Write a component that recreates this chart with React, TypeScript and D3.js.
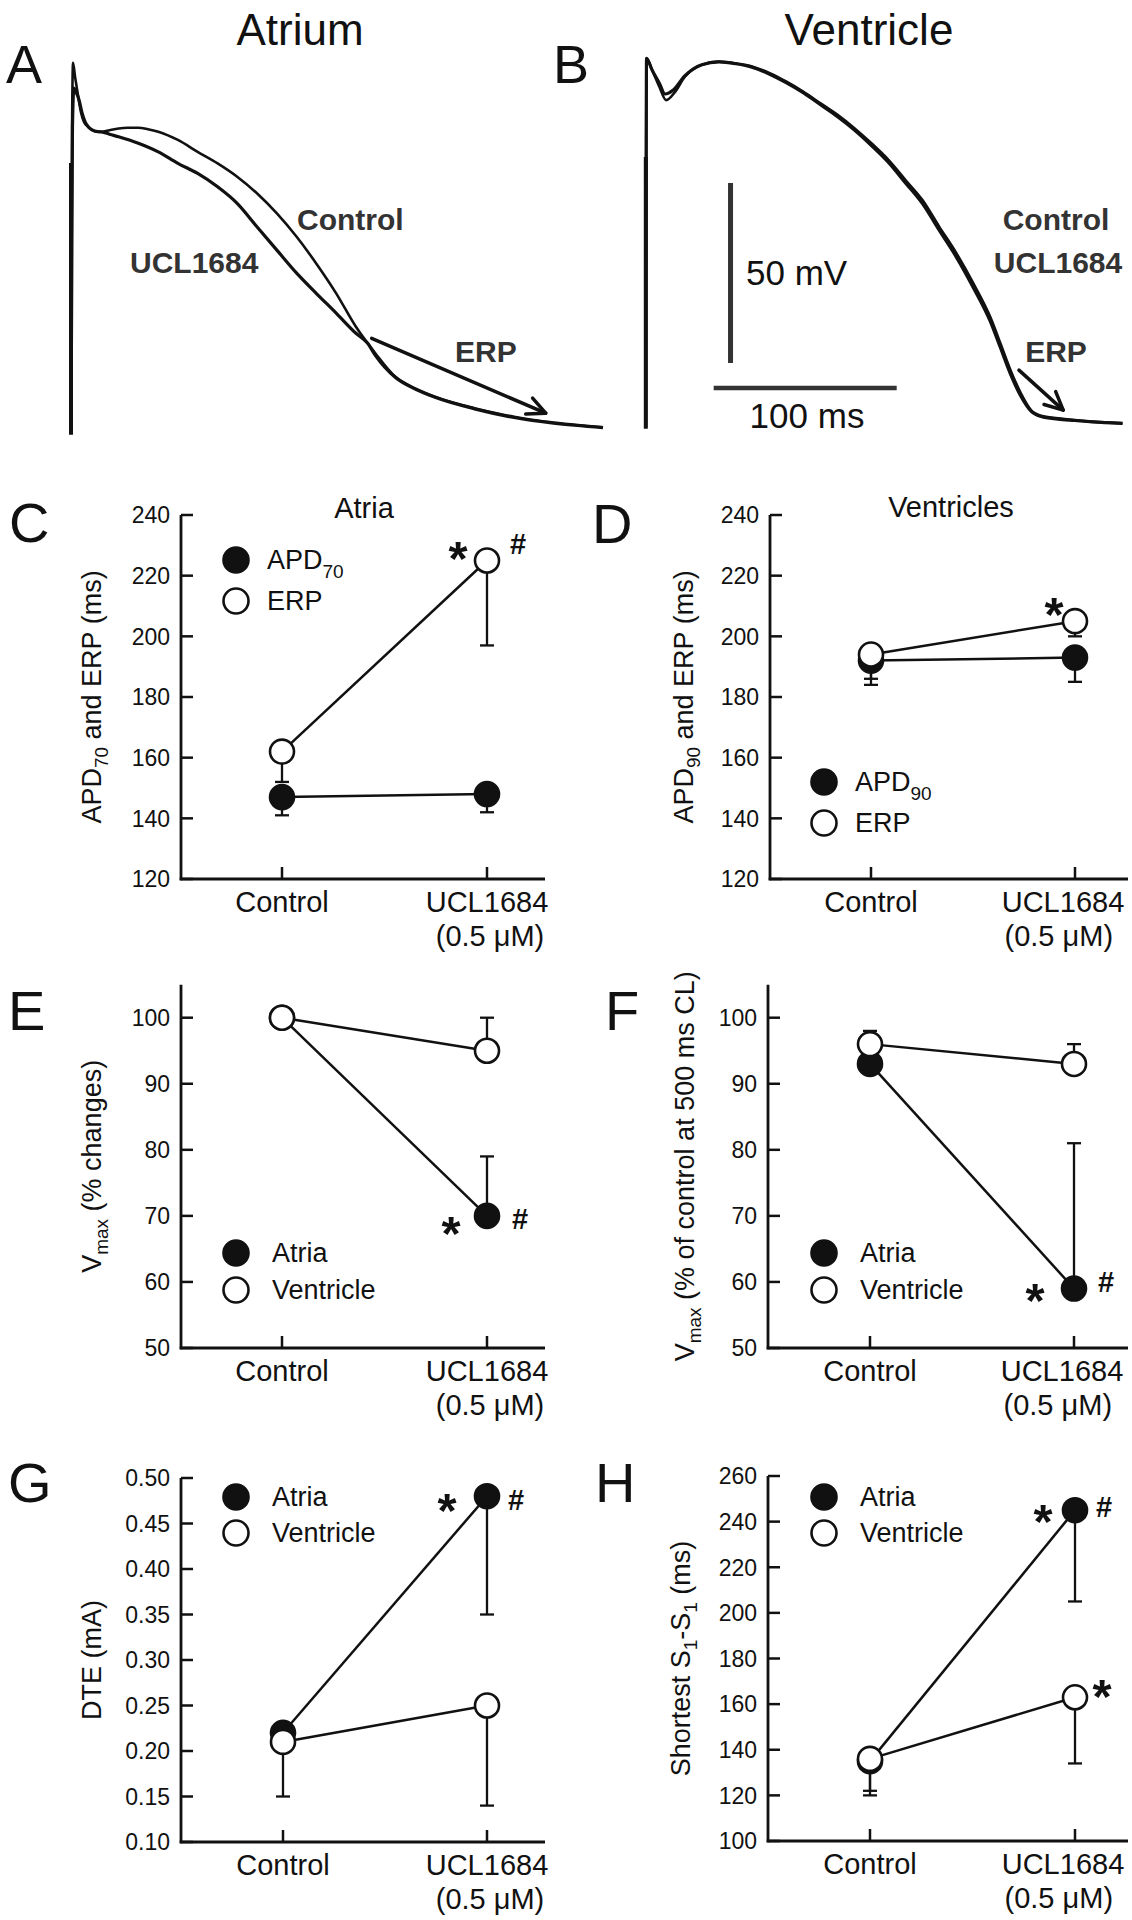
import React from 'react';
import * as d3 from 'd3';

const FONT = '"Liberation Sans", Arial, Helvetica, sans-serif';
const INK = '#111';
const GREY = '#333';

const categories = ['Control', 'UCL1684'];

// ---------- Action potential traces (time in ms, voltage in mV) ----------
const atriumControl: [number, number][] = [
  [0, -85], [0.6, 0], [1.1, 17.8], [2.2, 14], [3.8, 8.9], [5.5, 4.0], [7.1, 1.4], [9.5, 0.0], [11.5, -0.8],
  [14.5, -1.3], [17.4, -1.3], [21, -0.9], [26.0, -0.4], [31, -0.2], [36.8, -0.2], [42, -0.6], [47.7, -1.3],
  [58.4, -3.6], [69.2, -6.9], [80.1, -10.1], [90.8, -13.8], [101.6, -18.4], [112.5, -24.0], [123.3, -30.5],
  [134.0, -37.9], [144.9, -46.2], [155.7, -55.5], [166.4, -62.9], [177.3, -69.4], [188.1, -72.6], [198.9, -74.9],
  [209.7, -76.7], [220.5, -78.1], [231.3, -79.4], [242.1, -80.5], [252.9, -81.4], [263.7, -82.1], [277, -82.8],
  [290.7, -83.4],
];
const atriumUCL: [number, number][] = [
  [0, -85], [0.8, 0], [1.6, 10.8], [2.5, 10], [4.4, 7.5], [6, 4], [7.7, 1.4], [9.5, 0], [11.5, -0.8],
  [14.5, -1.3], [17.4, -1.4], [21, -2.0], [26.0, -2.7], [36.8, -4.5], [47.7, -6.9], [58.4, -10.1], [69.2, -12.9],
  [80.1, -16.6], [90.8, -21.2], [101.6, -27.7], [112.5, -34.2], [123.3, -40.6], [134.0, -46.2], [144.9, -51.7],
  [155.7, -57.3], [162.1, -60.1], [166.4, -63.5], [177.3, -69.6], [188.1, -72.8], [198.9, -75.1], [220.5, -78.3],
  [242.1, -80.7], [263.7, -82.3], [290.7, -83.5],
];
const ventricleControl: [number, number][] = [
  [0, -85], [0.4, 17.4], [3.4, 14.2], [7.4, 9.5], [11.1, 5.8], [16, 8.1], [21.3, 12.3], [30.6, 15.6],
  [39.9, 16.5], [49.1, 16.0], [58.4, 15.1], [67.7, 13.3], [76.9, 10.9], [86.2, 8.1], [95.5, 4.9], [104.8, 1.7],
  [114.0, -2.0], [123.3, -6.2], [132.6, -10.8], [141.9, -16.4], [151.1, -21.9], [160.4, -29.4], [169.7, -36.7],
  [179.0, -45.1], [188.2, -54.4], [193.8, -61.8], [199.3, -69.2], [204.9, -75.6], [210.5, -80.3], [216.0, -81.9],
  [225.2, -82.6], [234.5, -83.1], [243.8, -83.5], [260.5, -84.0],
];
const ventricleUCL: [number, number][] = [
  [0, -85], [0.4, 17.4], [3.4, 14.2], [7.4, 10.5], [10.5, 7.5], [15, 8.6], [21.3, 12.5], [30.6, 15.6],
  [39.9, 16.4], [49.1, 15.9], [58.4, 14.9], [67.7, 13.0], [76.9, 10.6], [86.2, 7.8], [95.5, 4.5], [104.8, 1.2],
  [114.0, -2.5], [123.3, -6.8], [132.6, -11.5], [141.9, -17.2], [151.1, -22.9], [160.4, -30.4], [169.7, -37.8],
  [179.0, -46.3], [188.2, -55.6], [193.8, -63.0], [199.3, -70.3], [204.9, -76.4], [210.5, -80.6], [216.0, -82.1],
  [225.2, -82.8], [234.5, -83.2], [243.8, -83.6], [260.5, -84.0],
];
const atriumErpArrow: [number, number][] = [[164.3, -58.7], [259.4, -79.5]];
const ventricleErpArrow: [number, number][] = [[203.9, -69.2], [228.1, -80.3]];
const scaleBarMv = 50;
const scaleBarMs = 100;

// ---------- Panel C (Atria) ----------
const cTicks = [120, 140, 160, 180, 200, 220, 240];
const cApd70 = [147, 148];
const cApd70Err = [141, 142];
const cErp = [162, 225];
const cErpErr = [152, 197];

// ---------- Panel D (Ventricles) ----------
const dTicks = [120, 140, 160, 180, 200, 220, 240];
const dApd90 = [192, 193];
const dApd90Err = [184, 185];
const dErp = [194, 205];
const dErpErr = [186, 200];

// ---------- Panel E ----------
const eTicks = [50, 60, 70, 80, 90, 100];
const eAtria = [100, 70];
const eAtriaErr = [100, 79];
const eVent = [100, 95];
const eVentErr = [100, 100];

// ---------- Panel F ----------
const fTicks = [50, 60, 70, 80, 90, 100];
const fAtria = [93, 59];
const fAtriaErr = [93, 81];
const fVent = [96, 93];
const fVentErr = [98, 96];

// ---------- Panel G ----------
const gTicks = [0.1, 0.15, 0.2, 0.25, 0.3, 0.35, 0.4, 0.45, 0.5];
const gAtria = [0.22, 0.48];
const gAtriaErr = [0.22, 0.35];
const gVent = [0.21, 0.25];
const gVentErr = [0.15, 0.14];

// ---------- Panel H ----------
const hTicks = [100, 120, 140, 160, 180, 200, 220, 240, 260];
const hAtria = [135, 245];
const hAtriaErr = [120, 205];
const hVent = [136, 163];
const hVentErr = [122, 134];

type Part = { t: string; sub?: boolean };
type Series = { values: number[]; err: number[]; filled: boolean };
type Mark = { s: number; c: number; dx: number; dy: number; ch: string };
type LegendItem = { filled: boolean; parts: Part[] };

function RichText({ parts, size, subSize, subShift }: { parts: Part[]; size: number; subSize: number; subShift: number }) {
  const out: React.ReactNode[] = [];
  let shifted = false;
  parts.forEach((p, i) => {
    if (p.sub) {
      out.push(<tspan key={i} dy={shifted ? 0 : subShift} fontSize={subSize}>{p.t}</tspan>);
      shifted = true;
    } else {
      out.push(<tspan key={i} dy={shifted ? -subShift : 0} fontSize={size}>{p.t}</tspan>);
      shifted = false;
    }
  });
  return <>{out}</>;
}

type PanelProps = {
  axisX: number; xEnd: number; ctrlX: number; uclX: number; labelShift?: number;
  domain: [number, number]; range: [number, number]; axisTop?: number;
  ticks: number[]; fmt: (v: number) => string;
  series: Series[]; marks: Mark[];
  legendX: number; legendTextX: number; legendY: number[]; legend: LegendItem[];
  ylabel: Part[]; ylabelX: number;
  title?: string; titleX?: number; titleY?: number;
  letter: string; letterX: number; letterY: number;
};

function Panel(p: PanelProps) {
  const y = d3.scaleLinear().domain(p.domain).range(p.range);
  const x = d3.scalePoint<string>().domain(categories).range([p.ctrlX, p.uclX]);
  const yBottom = p.range[0];
  const yTop = y(p.axisTop ?? p.domain[1]);
  const line = d3.line<number>().x((_, i) => x(categories[i]) as number).y((d) => y(d));
  const r = 12;
  const shift = p.labelShift ?? 0;
  return (
    <g>
      <text x={p.letterX} y={p.letterY} fontSize={56} fontFamily={FONT} fill={INK}>{p.letter}</text>
      {p.title && (
        <text x={p.titleX} y={p.titleY} fontSize={29} fontFamily={FONT} fill={INK} textAnchor="middle">{p.title}</text>
      )}
      {/* axes */}
      <line x1={p.axisX} x2={p.axisX} y1={yTop} y2={yBottom + 1.3} stroke={INK} strokeWidth={2.8} />
      <line x1={p.axisX - 1.3} x2={p.xEnd} y1={yBottom} y2={yBottom} stroke={INK} strokeWidth={2.8} />
      {p.ticks.map((t) => (
        <g key={t}>
          <line x1={p.axisX} x2={p.axisX + 12} y1={y(t)} y2={y(t)} stroke={INK} strokeWidth={2.5} />
          <text x={p.axisX - 11} y={y(t) + 8.3} fontSize={23} fontFamily={FONT} fill={INK} textAnchor="end">{p.fmt(t)}</text>
        </g>
      ))}
      {categories.map((c) => (
        <line key={c} x1={x(c)} x2={x(c)} y1={yBottom} y2={yBottom - 12} stroke={INK} strokeWidth={2.5} />
      ))}
      <text x={p.ctrlX} y={yBottom + 33} fontSize={29} fontFamily={FONT} fill={INK} textAnchor="middle">Control</text>
      <text x={p.uclX + shift} y={yBottom + 33} fontSize={29} fontFamily={FONT} fill={INK} textAnchor="middle">UCL1684</text>
      <text x={p.uclX + 3 + shift * 1.6} y={yBottom + 67} fontSize={29} fontFamily={FONT} fill={INK} textAnchor="middle">(0.5 μM)</text>
      <text transform={`translate(${p.ylabelX},${(yTop + yBottom) / 2}) rotate(-90)`} fontFamily={FONT} fill={INK} textAnchor="middle">
        <RichText parts={p.ylabel} size={27} subSize={19} subShift={7} />
      </text>
      {/* lines */}
      {p.series.map((s, i) => (
        <path key={'l' + i} d={line(s.values) as string} fill="none" stroke={INK} strokeWidth={2.5} />
      ))}
      {/* error bars */}
      {p.series.map((s, i) =>
        s.values.map((v, j) =>
          s.err[j] === v ? null : (
            <g key={'e' + i + '-' + j}>
              <line x1={x(categories[j])} x2={x(categories[j])} y1={y(v)} y2={y(s.err[j])} stroke={INK} strokeWidth={2.3} />
              <line x1={(x(categories[j]) as number) - 7} x2={(x(categories[j]) as number) + 7} y1={y(s.err[j])} y2={y(s.err[j])} stroke={INK} strokeWidth={2.3} />
            </g>
          )
        )
      )}
      {/* markers: filled first, open on top */}
      {[...p.series].sort((a, b) => Number(b.filled) - Number(a.filled)).map((s, i) =>
        s.values.map((v, j) => (
          <circle key={'c' + i + '-' + j} cx={x(categories[j])} cy={y(v)} r={r}
            fill={s.filled ? INK : '#fff'} stroke={INK} strokeWidth={2.6} />
        ))
      )}
      {p.marks.map((m, i) => {
        const cx = (x(categories[m.c]) as number) + m.dx;
        const cy = y(p.series[m.s].values[m.c]) + m.dy;
        return m.ch === '*' ? (
          <text key={'m' + i} x={cx} y={cy + 28} fontSize={49} fontWeight="bold" fontFamily={FONT} fill={INK} textAnchor="middle">*</text>
        ) : (
          <text key={'m' + i} x={cx} y={cy + 10} fontSize={29} fontWeight="bold" fontFamily={FONT} fill={INK} textAnchor="middle">#</text>
        );
      })}
      {/* legend */}
      {p.legend.map((it, i) => (
        <g key={'g' + i}>
          <circle cx={p.legendX} cy={p.legendY[i]} r={12.5} fill={it.filled ? INK : '#fff'} stroke={INK} strokeWidth={2.6} />
          <text x={p.legendTextX} y={p.legendY[i] + 9} fontFamily={FONT} fill={INK}>
            <RichText parts={it.parts} size={27} subSize={19} subShift={9} />
          </text>
        </g>
      ))}
    </g>
  );
}

function Arrow({ p0, p1 }: { p0: [number, number]; p1: [number, number] }) {
  const ang = Math.atan2(p1[1] - p0[1], p1[0] - p0[0]);
  const L = 20, w = 0.45;
  const a1: [number, number] = [p1[0] - L * Math.cos(ang - w), p1[1] - L * Math.sin(ang - w)];
  const a2: [number, number] = [p1[0] - L * Math.cos(ang + w), p1[1] - L * Math.sin(ang + w)];
  return (
    <g stroke={INK} strokeWidth={3.5} fill="none" strokeLinecap="round" strokeLinejoin="round">
      <line x1={p0[0]} y1={p0[1]} x2={p1[0]} y2={p1[1]} />
      <polyline points={`${a1[0]},${a1[1]} ${p1[0]},${p1[1]} ${a2[0]},${a2[1]}`} />
    </g>
  );
}

function APPanel({ x0, yRest, traces, arrow }: { x0: number; yRest: number; traces: [number, number][][]; arrow: [number, number][] }) {
  const x = d3.scaleLinear().domain([0, 100]).range([x0, x0 + 183]);
  const y = d3.scaleLinear().domain([-85, 0]).range([yRest, yRest - 306]);
  const line = d3.line<[number, number]>().x((d) => x(d[0])).y((d) => y(d[1])).curve(d3.curveMonotoneX);
  return (
    <g>
      {traces.map((t, i) => (
        <path key={i} d={line(t) as string} fill="none" stroke={INK} strokeWidth={i === 0 ? 2.6 : 3.2} strokeLinejoin="round" />
      ))}
      <line x1={x(0)} x2={x(0)} y1={y(-85.5)} y2={y(-10)} stroke={INK} strokeWidth={4} />
      <Arrow p0={[x(arrow[0][0]), y(arrow[0][1])]} p1={[x(arrow[1][0]), y(arrow[1][1])]} />
    </g>
  );
}

export default function App() {
  const xB = d3.scaleLinear().domain([0, 100]).range([645.8, 645.8 + 183]);
  const yB = d3.scaleLinear().domain([-85, 0]).range([427, 427 - 306]);
  const fmtInt = (v: number) => d3.format('d')(v);
  const fmt2 = (v: number) => d3.format('.2f')(v);
  const atriaVentLegend: LegendItem[] = [
    { filled: true, parts: [{ t: 'Atria' }] },
    { filled: false, parts: [{ t: 'Ventricle' }] },
  ];
  return (
    <svg width={1132} height={1920} viewBox="0 0 1132 1920" style={{ position: 'absolute', left: 0, top: 0, background: '#fff' }}>
      <rect x={0} y={0} width={1132} height={1920} fill="#fff" />
      {/* ---------- A / B ---------- */}
      <text x={6} y={83} fontSize={54} fontFamily={FONT} fill={INK}>A</text>
      <text x={553} y={83} fontSize={54} fontFamily={FONT} fill={INK}>B</text>
      <text x={300} y={45} fontSize={44} fontFamily={FONT} fill={INK} textAnchor="middle">Atrium</text>
      <text x={869} y={45} fontSize={44} fontFamily={FONT} fill={INK} textAnchor="middle">Ventricle</text>
      <APPanel x0={71} yRest={433} traces={[atriumControl, atriumUCL]} arrow={atriumErpArrow} />
      <APPanel x0={645.8} yRest={427} traces={[ventricleControl, ventricleUCL]} arrow={ventricleErpArrow} />
      <g fontFamily={FONT} fontWeight="bold" fontSize={30} fill={GREY}>
        <text x={297} y={230}>Control</text>
        <text x={130} y={273}>UCL1684</text>
        <text x={455} y={362}>ERP</text>
        <text x={1056} y={230} textAnchor="middle">Control</text>
        <text x={1058} y={273} textAnchor="middle">UCL1684</text>
        <text x={1056} y={362} textAnchor="middle">ERP</text>
      </g>
      {/* scale bars */}
      <line x1={xB(46.3)} x2={xB(46.3)} y1={yB(-17.2)} y2={yB(-17.2 - scaleBarMv)} stroke={GREY} strokeWidth={5} />
      <line x1={xB(37.1)} x2={xB(37.1 + scaleBarMs)} y1={yB(-74.2)} y2={yB(-74.2)} stroke={GREY} strokeWidth={4.5} />
      <text x={746} y={285} fontSize={35} fontFamily={FONT} fill={INK}>{`${scaleBarMv} mV`}</text>
      <text x={807} y={428} fontSize={35} fontFamily={FONT} fill={INK} textAnchor="middle">{`${scaleBarMs} ms`}</text>

      {/* ---------- C ---------- */}
      <Panel axisX={181} xEnd={545} ctrlX={282} uclX={487} domain={[120, 240]} range={[879, 515]}
        ticks={cTicks} fmt={fmtInt}
        series={[{ values: cApd70, err: cApd70Err, filled: true }, { values: cErp, err: cErpErr, filled: false }]}
        marks={[{ s: 1, c: 1, dx: -29, dy: -14, ch: '*' }, { s: 1, c: 1, dx: 31, dy: -17, ch: '#' }]}
        legendX={236} legendTextX={267} legendY={[560, 601]}
        legend={[{ filled: true, parts: [{ t: 'APD' }, { t: '70', sub: true }] }, { filled: false, parts: [{ t: 'ERP' }] }]}
        ylabel={[{ t: 'APD' }, { t: '70', sub: true }, { t: ' and ERP (ms)' }]} ylabelX={101}
        title="Atria" titleX={364} titleY={518} letter="C" letterX={9} letterY={542} />

      {/* ---------- D ---------- */}
      <Panel axisX={770} xEnd={1128} ctrlX={871} uclX={1075} labelShift={-12} domain={[120, 240]} range={[879, 515]}
        ticks={dTicks} fmt={fmtInt}
        series={[{ values: dApd90, err: dApd90Err, filled: true }, { values: dErp, err: dErpErr, filled: false }]}
        marks={[{ s: 1, c: 1, dx: -21, dy: -18, ch: '*' }]}
        legendX={824} legendTextX={855} legendY={[782, 823]}
        legend={[{ filled: true, parts: [{ t: 'APD' }, { t: '90', sub: true }] }, { filled: false, parts: [{ t: 'ERP' }] }]}
        ylabel={[{ t: 'APD' }, { t: '90', sub: true }, { t: ' and ERP (ms)' }]} ylabelX={693}
        title="Ventricles" titleX={951} titleY={517} letter="D" letterX={592} letterY={543} />

      {/* ---------- E ---------- */}
      <Panel axisX={181} xEnd={545} ctrlX={282} uclX={487} domain={[50, 100]} range={[1348, 1017.7]} axisTop={105}
        ticks={eTicks} fmt={fmtInt}
        series={[{ values: eAtria, err: eAtriaErr, filled: true }, { values: eVent, err: eVentErr, filled: false }]}
        marks={[{ s: 0, c: 1, dx: -36, dy: 6, ch: '*' }, { s: 0, c: 1, dx: 33, dy: 3, ch: '#' }]}
        legendX={236} legendTextX={272} legendY={[1253, 1290]} legend={atriaVentLegend}
        ylabel={[{ t: 'V' }, { t: 'max', sub: true }, { t: ' (% changes)' }]} ylabelX={101}
        letter="E" letterX={8} letterY={1030} />

      {/* ---------- F ---------- */}
      <Panel axisX={768} xEnd={1128} ctrlX={870} uclX={1074} labelShift={-12} domain={[50, 100]} range={[1348, 1017.7]} axisTop={105}
        ticks={fTicks} fmt={fmtInt}
        series={[{ values: fAtria, err: fAtriaErr, filled: true }, { values: fVent, err: fVentErr, filled: false }]}
        marks={[{ s: 0, c: 1, dx: -39, dy: 0, ch: '*' }, { s: 0, c: 1, dx: 32, dy: -7, ch: '#' }]}
        legendX={824} legendTextX={860} legendY={[1253, 1290]} legend={atriaVentLegend}
        ylabel={[{ t: 'V' }, { t: 'max', sub: true }, { t: ' (% of control at 500 ms CL)' }]} ylabelX={694}
        letter="F" letterX={605} letterY={1030} />

      {/* ---------- G ---------- */}
      <Panel axisX={181} xEnd={545} ctrlX={283} uclX={487} domain={[0.1, 0.5]} range={[1842, 1478]}
        ticks={gTicks} fmt={fmt2}
        series={[{ values: gAtria, err: gAtriaErr, filled: true }, { values: gVent, err: gVentErr, filled: false }]}
        marks={[{ s: 0, c: 1, dx: -40, dy: 3, ch: '*' }, { s: 0, c: 1, dx: 29, dy: 4, ch: '#' }]}
        legendX={236} legendTextX={272} legendY={[1497, 1533]} legend={atriaVentLegend}
        ylabel={[{ t: 'DTE (mA)' }]} ylabelX={101}
        letter="G" letterX={8} letterY={1502} />

      {/* ---------- H ---------- */}
      <Panel axisX={768} xEnd={1128} ctrlX={870} uclX={1075} labelShift={-12} domain={[100, 260]} range={[1841, 1476]}
        ticks={hTicks} fmt={fmtInt}
        series={[{ values: hAtria, err: hAtriaErr, filled: true }, { values: hVent, err: hVentErr, filled: false }]}
        marks={[{ s: 0, c: 1, dx: -32, dy: 0, ch: '*' }, { s: 0, c: 1, dx: 29, dy: -3.5, ch: '#' }, { s: 1, c: 1, dx: 27, dy: -12, ch: '*' }]}
        legendX={824} legendTextX={860} legendY={[1497, 1533]} legend={atriaVentLegend}
        ylabel={[{ t: 'Shortest S' }, { t: '1', sub: true }, { t: '-S' }, { t: '1', sub: true }, { t: ' (ms)' }]} ylabelX={690}
        letter="H" letterX={595} letterY={1502} />
    </svg>
  );
}
